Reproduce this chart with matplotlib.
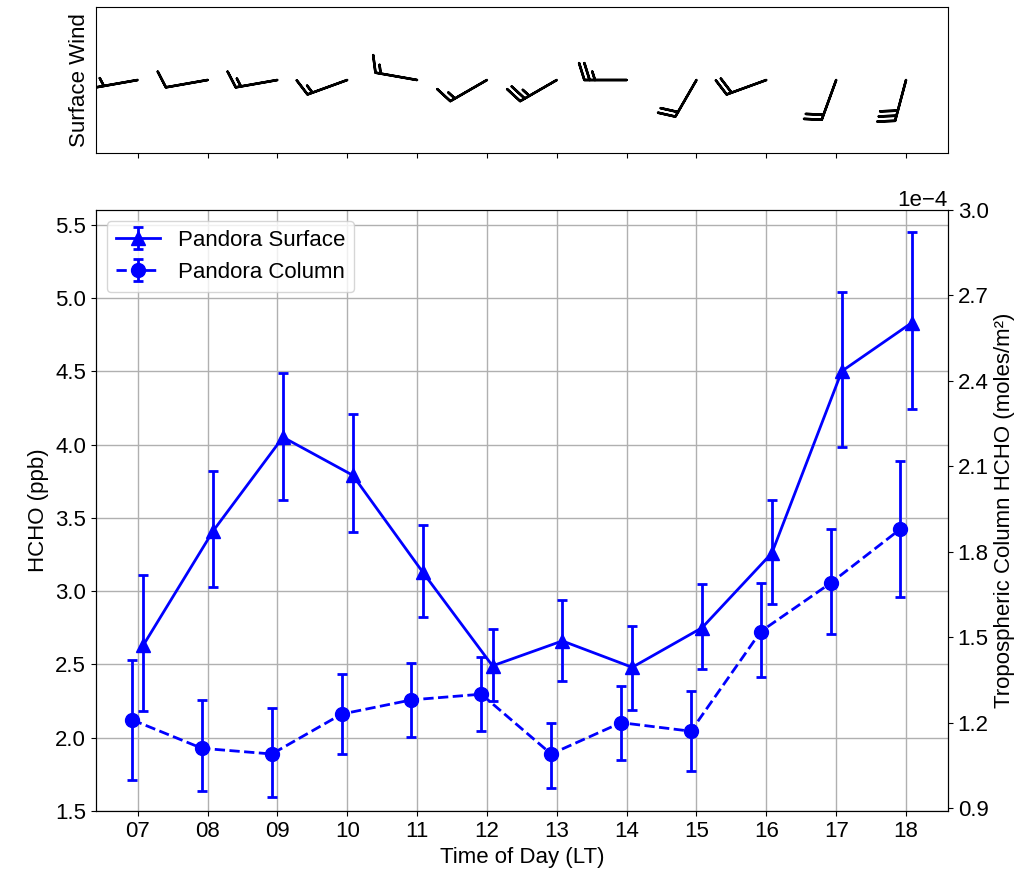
import numpy as np
import matplotlib
matplotlib.use('Agg')
import matplotlib.pyplot as plt

# hours of the day (LT)
hours = [7, 8, 9, 10, 11, 12, 13, 14, 15, 16, 17, 18]
hour_labels = ['07', '08', '09', '10', '11', '12', '13', '14', '15', '16', '17', '18']

# Pandora surface HCHO (ppb) with error bar bounds
surf = [2.63, 3.41, 4.05, 3.79, 3.13, 2.49, 2.66, 2.48, 2.75, 3.26, 4.50, 4.83]
surf_lo = [2.18, 3.03, 3.62, 3.40, 2.82, 2.25, 2.39, 2.19, 2.47, 2.91, 3.98, 4.24]
surf_hi = [3.11, 3.82, 4.49, 4.21, 3.45, 2.74, 2.94, 2.76, 3.05, 3.62, 5.04, 5.45]

# Pandora tropospheric column HCHO (1e-4 moles/m2)
col = [1.21, 1.11, 1.09, 1.23, 1.28, 1.30, 1.09, 1.20, 1.17, 1.52, 1.69, 1.88]
col_lo = [1.00, 0.96, 0.94, 1.09, 1.15, 1.17, 0.97, 1.07, 1.03, 1.36, 1.51, 1.64]
col_hi = [1.42, 1.28, 1.25, 1.37, 1.41, 1.43, 1.20, 1.33, 1.31, 1.69, 1.88, 2.12]

# surface wind: direction it blows from (deg) and speed (knots)
wind_dir = [260, 260, 260, 250, 280, 240, 240, 270, 210, 250, 200, 195]
wind_spd = [5, 10, 15, 15, 15, 15, 25, 25, 20, 20, 20, 30]

plt.rcParams['font.family'] = ['Liberation Sans', 'DejaVu Sans']
plt.rcParams['font.size'] = 16

x = np.array(hours, dtype=float)
surf = np.array(surf)
col = np.array(col)

fig = plt.figure(figsize=(10.35, 8.72), dpi=100)
ax_w = fig.add_axes([0.0925, 0.8245, 0.8234, 0.1675])
ax = fig.add_axes([0.0925, 0.07, 0.8234, 0.6892])

# wind barbs
rad = np.deg2rad(wind_dir)
u = -np.array(wind_spd) * np.sin(rad)
v = -np.array(wind_spd) * np.cos(rad)
ax_w.barbs(x, np.zeros_like(x), u, v, length=7.8, linewidth=1.8)
ax_w.set_xlim(6.4, 18.6)
ax_w.set_ylim(-1, 1)
ax_w.set_xticks(hours)
ax_w.tick_params(labelbottom=False)
ax_w.set_yticks([])
ax_w.set_ylabel('Surface Wind')

# surface HCHO
ax.errorbar(x + 0.08, surf, yerr=[surf - np.array(surf_lo), np.array(surf_hi) - surf],
            fmt='-^', color='blue', ms=10, lw=2, elinewidth=2, capsize=3.5, capthick=2,
            label='Pandora Surface')
ax.set_xlim(6.4, 18.6)
ax.set_ylim(1.5, 5.6)
ax.set_xticks(hours)
ax.set_xticklabels(hour_labels)
ax.set_yticks(np.arange(1.5, 5.51, 0.5))
ax.grid(True, color='#b0b0b0', lw=1)
ax.set_axisbelow(True)
ax.set_xlabel('Time of Day (LT)')
ax.set_ylabel('HCHO (ppb)')

# column HCHO
ax2 = ax.twinx()
ax2.errorbar(x - 0.08, col * 1e-4,
             yerr=[(col - np.array(col_lo)) * 1e-4, (np.array(col_hi) - col) * 1e-4],
             fmt='--o', color='blue', ms=10, lw=2, elinewidth=2, capsize=3.5, capthick=2,
             label='Pandora Column')
ax2.set_ylim(0.89e-4, 3.0e-4)
ax2.set_yticks(np.arange(0.9, 3.01, 0.3) * 1e-4)
ax2.ticklabel_format(axis='y', style='sci', scilimits=(0, 0))
ax2.set_ylabel('Tropospheric Column HCHO (moles/m²)')

h1, l1 = ax.get_legend_handles_labels()
h2, l2 = ax2.get_legend_handles_labels()
ax2.legend(h1 + h2, l1 + l2, loc='upper left')

fig.savefig('out.png', dpi=100)
